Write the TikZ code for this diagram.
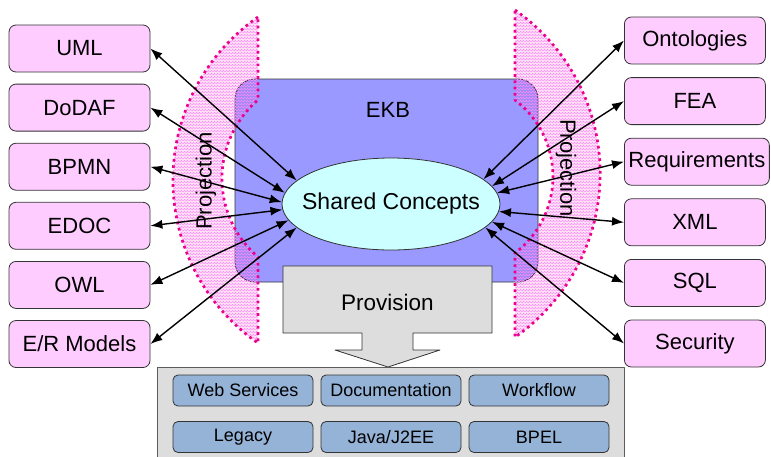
\documentclass[tikz,border=0pt]{standalone}
\usepackage{fontspec}
\setmainfont{Liberation Sans}
\usetikzlibrary{arrows.meta,shapes.geometric,patterns}
\definecolor{pinkbox}{HTML}{FFCCFF}
\definecolor{ekbblue}{HTML}{9999FF}
\definecolor{concept}{HTML}{CCFFFF}
\definecolor{tool}{HTML}{95B3D7}
\definecolor{greybox}{HTML}{DDDDDD}
\definecolor{edge}{HTML}{333333}

\begin{document}
\begin{tikzpicture}[x=1pt,y=-1pt,line join=round,
    sidebox/.style={draw=edge,fill=pinkbox,rounded corners=7pt,line width=.8pt,
      minimum width=141pt,minimum height=47pt,inner sep=4pt,
      font=\fontsize{22}{24}\selectfont},
    toolbox/.style={draw=edge,fill=tool,rounded corners=5pt,line width=.8pt,
      minimum width=140pt,minimum height=31pt,font=\fontsize{18}{20}\selectfont},
    link/.style={{Latex[length=12pt,width=9pt]}-{Latex[length=12pt,width=9pt]},
      line width=1.4pt},
    proj/.style={pattern=crosshatch,pattern color=magenta!45,
      preaction={fill=magenta,fill opacity=.1},
      draw=magenta,line width=2.7pt,dash pattern=on 2.7pt off 3.6pt}]
  \useasboundingbox (0,0) rectangle (771,456);

  % knowledge base with the shared concepts
  \node[draw=edge,fill=ekbblue,rounded corners=20pt,line width=.8pt,
    minimum width=303pt,minimum height=203pt] (ekb) at (386.5,180.5) {};
  \node[font=\fontsize{22}{24}\selectfont] (ekblabel) at (388,110) {EKB};

  % projection bands on both sides
  \path[proj] (258,17) arc[start angle=235.1,end angle=124.9,radius=198.8]
    -- (258,257) arc[start angle=130.7,end angle=229.3,radius=103.6] -- cycle;
  \path[proj] (515,10) arc[start angle=-55,end angle=55,radius=199.7]
    -- (515,253) arc[start angle=52.8,end angle=-52.8,radius=96] -- cycle;
  \node[rotate=90,font=\fontsize{22}{24}\selectfont] (projl) at (206,181) {Projection};
  \node[rotate=-90,font=\fontsize{22}{24}\selectfont] (projr) at (566,168) {Projection};

  \node[ellipse,draw=edge,fill=concept,line width=.8pt,inner sep=0pt,minimum width=218pt,
    minimum height=92pt,font=\fontsize{23}{25}\selectfont] (sc) at (391,204)
    {\makebox[0pt]{Shared Concepts}};

  % source models (left) and targets (right)
  \foreach \name/\txt [count=\i] in {uml/UML,dodaf/DoDAF,bpmn/BPMN,edoc/EDOC,owl/OWL,er/{E/R Models}}
    \node[sidebox] (\name) at ({79.5},{48.5+59.1*(\i-1)}) {\txt};
  \foreach \name/\txt [count=\i] in {onto/Ontologies,fea/FEA,req/Requirements,xml/XML,sql/SQL,sec/Security}
    \node[sidebox,anchor=west] (\name) at ({624},{40.5+60.6*(\i-1)}) {\txt};

  \foreach \name/\ang in {uml/166,dodaf/174,bpmn/179,edoc/183,owl/189,er/194}
    \draw[link] (\name.east) -- (sc.\ang);
  \foreach \name/\ang in {onto/15,fea/10,req/6,xml/-4,sql/-10,sec/-14}
    \draw[link] (\name.west) -- (sc.\ang);

  % provision arrow and the generated artefacts
  \filldraw[fill=greybox,draw=edge,line width=.8pt] (283,266) -- (492,266) -- (492,333)
    -- (413,333) -- (413,350) -- (440,350) -- (388,367) -- (335,350) -- (362,350)
    -- (362,333) -- (283,333) -- cycle;
  \node[font=\fontsize{22.5}{24}\selectfont] (prov) at (387.5,302) {Provision};
  \filldraw[fill=greybox,draw=edge!80,line width=.8pt] (157,367) rectangle (624,470);
  \foreach \name/\txt/\x/\y in {ws/Web Services/243/390.5,doc/Documentation/391/390.5,
      wf/Workflow/539/390.5,leg/Legacy/243/437,java/Java\slash J2EE/391/437,bpel/BPEL/539/437}
    \node[toolbox] (\name) at (\x,\y) {\txt};
\end{tikzpicture}
\end{document}
